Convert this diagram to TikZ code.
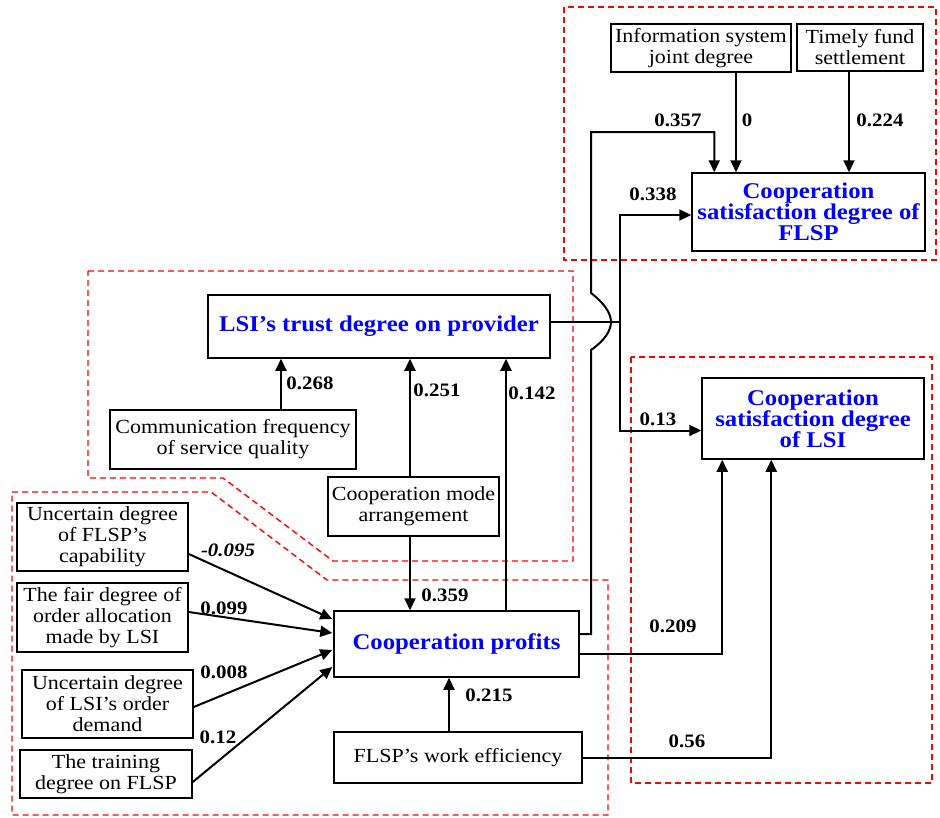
\documentclass[tikz,border=0pt]{standalone}
\usepackage{fontspec}
\setmainfont[FakeStretch=1.1]{Liberation Serif}
\usetikzlibrary{arrows.meta,calc}
\begin{document}
\begin{tikzpicture}[x=1pt,y=-1pt,
  box/.style={draw, line width=1.5pt, inner sep=0pt, align=center, font=\fontsize{20}{21}\selectfont},
  title/.style={box, text=blue, font=\fontsize{22.5}{21}\selectfont\bfseries},
  conn/.style={line width=2pt},
  arr/.style={conn, -{Triangle[length=12pt,width=11pt]}},
  lab/.style={inner sep=0pt, font=\fontsize{19}{19}\selectfont\bfseries},
  zone/.style={red, line width=1.4pt, dash pattern=on 6pt off 4pt}]
\useasboundingbox (0,0) rectangle (940,817);

% dashed regions
\draw[zone] (564,7) rectangle (936,260);
\draw[zone] (631,357) rectangle (932,783);
\draw[zone] (88,271) -- (573,271) -- (573,561) -- (333,561) -- (223,478) -- (88,478) -- cycle;
\draw[zone] (12,492) -- (211,492) -- (327,580) -- (608,580) -- (608,815) -- (12,815) -- cycle;

% nodes
\node[box, minimum width=180, minimum height=48] (info) at (701,48) {Information system\\joint degree};
\node[box, minimum width=126, minimum height=47] (fund) at (860,47.5) {Timely fund\\settlement};
\node[title, minimum width=233, minimum height=78] (flspsat) at (808.5,212) {Cooperation\\satisfaction degree of\\FLSP};
\node[title, minimum width=342, minimum height=63] (trust) at (379,326.5) {LSI’s trust degree on provider};
\node[box, minimum width=246, minimum height=59] (comm) at (233,439.5) {Communication frequency\\of service quality};
\node[box, minimum width=171, minimum height=59] (mode) at (413.5,506.5) {Cooperation mode\\arrangement};
\node[title, minimum width=222, minimum height=81] (lsisat) at (813,418.5) {Cooperation\\satisfaction degree\\of LSI};
\node[title, minimum width=245, minimum height=66] (profits) at (456.5,644) {Cooperation profits};
\node[box, minimum width=248, minimum height=51] (eff) at (458,757.5) {FLSP’s work efficiency};
\node[box, minimum width=171, minimum height=68] (u1) at (102.5,537) {Uncertain degree\\of FLSP’s\\capability};
\node[box, minimum width=171, minimum height=69] (u2) at (102.5,617.5) {The fair degree of\\order allocation\\made by LSI};
\node[box, minimum width=171, minimum height=68] (u3) at (107.5,704) {Uncertain degree\\of LSI’s order\\demand};
\node[box, minimum width=172, minimum height=48] (u4) at (106,774) {The training\\degree on FLSP};

% start points of vertical connectors
\coordinate (sInfo) at ($(info.south)+(35,0)$);
\coordinate (sFund) at ($(fund.south)+(-11,0)$);
\coordinate (sComm) at ($(comm.north)+(48,0)$);
\coordinate (sModeN) at ($(mode.north)+(-3.5,0)$);
\coordinate (sModeS) at ($(mode.south)+(-3.5,0)$);
\coordinate (sProfN) at ($(profits.north)+(49.5,0)$);
\coordinate (sEff) at ($(eff.north)+(-9,0)$);

% connectors to FLSP satisfaction
\draw[arr] (sInfo) -- (sInfo |- flspsat.north);
\draw[arr] (sFund) -- (sFund |- flspsat.north);
\draw[arr] ($(profits.east)+(0,-10)$) -| (591,350)
  .. controls (604,341) and (611,331) .. (611,322)
  .. controls (611,313) and (604,303) .. (591,293)
  -- (591,132) -| ($(flspsat.north west)+(23,0)$);

% hub from trust
\coordinate (hub) at (620,322);
\draw[conn] (trust.east |- hub) -- (hub);
\draw[arr] (hub) |- ($(flspsat.west)+(0,3)$);
\draw[arr] (hub) |- ($(lsisat.west)+(0,12)$);

% into trust
\draw[arr] (sComm) -- (sComm |- trust.south);
\draw[arr] (sModeN) -- (sModeN |- trust.south);
\draw[arr] (sProfN) -- (sProfN |- trust.south);

% into profits
\draw[arr] (sModeS) -- (sModeS |- profits.north);
\draw[arr] (sEff) -- (sEff |- profits.south);
\draw[arr] ($(u1.east)+(0,17)$) -- ($(profits.west)+(-1,-25)$);
\draw[arr] ($(u2.east)+(0,-5.5)$) -- ($(profits.west)+(-1,-11)$);
\draw[arr] ($(u3.east)+(0,3)$) -- ($(profits.west)+(-1,6)$);
\draw[arr] ($(u4.east)+(0,8)$) -- ($(profits.west)+(-1,23)$);

% into LSI satisfaction
\draw[arr] ($(profits.east)+(0,10)$) -| ($(lsisat.south west)+(21,0)$);
\draw[arr] (eff.east) -| ($(lsisat.south west)+(70,0)$);

% labels
\node[lab] (l357) at (678,120) {0.357};
\node[lab] (l0) at (747,120) {0};
\node[lab] (l224) at (880,120) {0.224};
\node[lab] (l338) at (653,194) {0.338};
\node[lab] (l13) at (658,419) {0.13};
\node[lab] (l209) at (673,626) {0.209};
\node[lab] (l56) at (687,741) {0.56};
\node[lab] (l268) at (310,383) {0.268};
\node[lab] (l251) at (437,390) {0.251};
\node[lab] (l142) at (532,393) {0.142};
\node[lab, font=\fontsize{19}{19}\selectfont\bfseries\itshape] (l095) at (228,550) {-0.095};
\node[lab] (l099) at (224,608) {0.099};
\node[lab] (l008) at (224,672) {0.008};
\node[lab] (l12) at (218,737) {0.12};
\node[lab] (l359) at (445,595) {0.359};
\node[lab] (l215) at (489,695) {0.215};
\end{tikzpicture}
\end{document}
